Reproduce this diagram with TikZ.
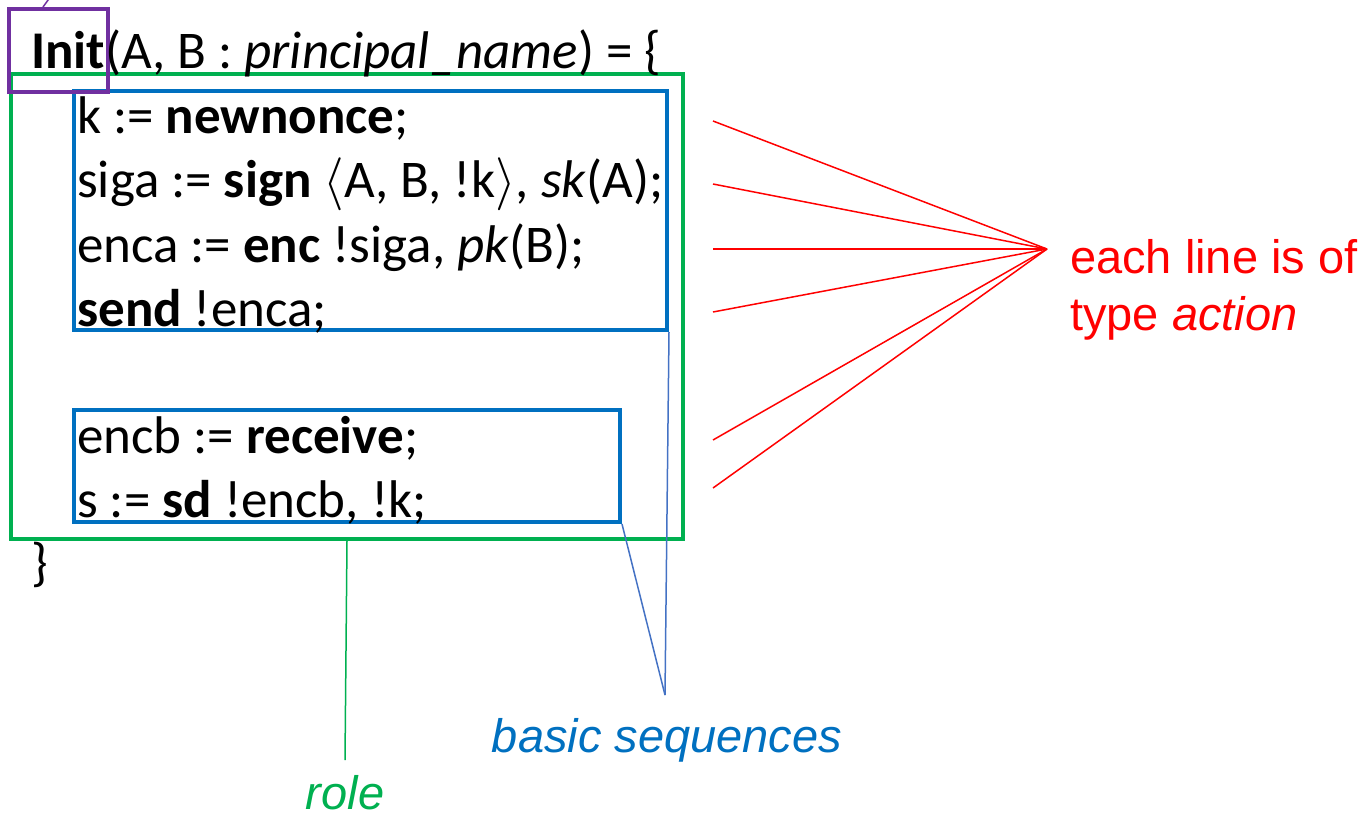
\RequirePackage{fix-cm}
\documentclass[tikz,border=0pt]{standalone}
\usepackage{fontspec}
\setmainfont{Carlito}
\newfontfamily\notefont{Liberation Sans}
\usetikzlibrary{positioning}

\definecolor{roleGreen}{HTML}{00B050}
\definecolor{seqBlue}{HTML}{0070C0}
\definecolor{linkBlue}{HTML}{4472C4}
\definecolor{namePurple}{HTML}{7030A0}

\begin{document}
\begin{tikzpicture}[x=1pt,y=-1pt]
               \tikzstyle{code}=[anchor=base west, inner sep=0pt, font=\fontsize{53}{64}\selectfont]
               \tikzstyle{frame}=[rectangle, draw, line width=4pt, inner sep=0pt, anchor=north west]
               \tikzstyle{note}=[inner sep=0pt, font=\notefont\fontsize{47}{57}\selectfont]
               \tikzstyle{link}=[line width=1.5pt]

               \useasboundingbox (0,0) rectangle (1371,819);

               % boxes
               \node[frame, draw=roleGreen, minimum width=672pt, minimum height=465pt] (role) at (9,72) {};
               \node[frame, draw=seqBlue, minimum width=593pt, minimum height=239pt] (seqA) at (72,89) {};
               \node[frame, draw=seqBlue, minimum width=546pt, minimum height=112pt] (seqB) at (72,408) {};
               \node[frame, draw=namePurple, minimum width=99pt, minimum height=83pt] (name) at (7,7) {};

               % code
               \node[code] (head) at (31,68) {\textbf{Init}(A, B : \textit{principal\_name}) = \{};
               \node[code] (l1) at (77,133) {k := \textbf{newnonce};};
               \node[code] (l2) at (77,197) {siga := \textbf{sign} $\langle$A, B, !k$\rangle$, \textit{sk}(A);};
               \node[code] (l3) at (77,262) {enca := \textbf{enc} !siga, \textit{pk}(B);};
               \node[code] (l4) at (77,326) {\textbf{send} !enca;};
               \node[code] (l5) at (77,453) {encb := \textbf{receive};};
               \node[code] (l6) at (77,517) {s := \textbf{sd} !encb, !k;};
               \node[code] (close) at (31,580) {\}};

               % labels
               \node[note, text=red, anchor=base west, align=left] (act) at (1070,330) {each line is of\\type \textit{action}};
               \node[note, text=seqBlue, anchor=base] (seqlbl) at (667,752) {\itshape basic sequences};
               \node[note, text=roleGreen, anchor=base] (rolelbl) at (345,809) {\itshape role};

               \coordinate (fan) at (1047,249);
               \coordinate (seqfoot) at (665,695);
               \coordinate (rolefoot) at (345,760);
               \coordinate (nameup) at (51,-4);

               \foreach \y [count=\i] in {121,184,249,312,440,488} {
                  \coordinate (r\i) at (713,\y);
                  \draw[red, link] (r\i) -- (fan);
               }
               \draw[linkBlue, link] (seqA.south east) -- (seqfoot);
               \draw[linkBlue, link] (seqB.south east) -- (seqfoot);
               \draw[roleGreen, link] (role.south) -- (rolefoot);
               \draw[namePurple, link] ([xshift=36pt]name.north west) -- (nameup);
            \end{tikzpicture}
\end{document}
